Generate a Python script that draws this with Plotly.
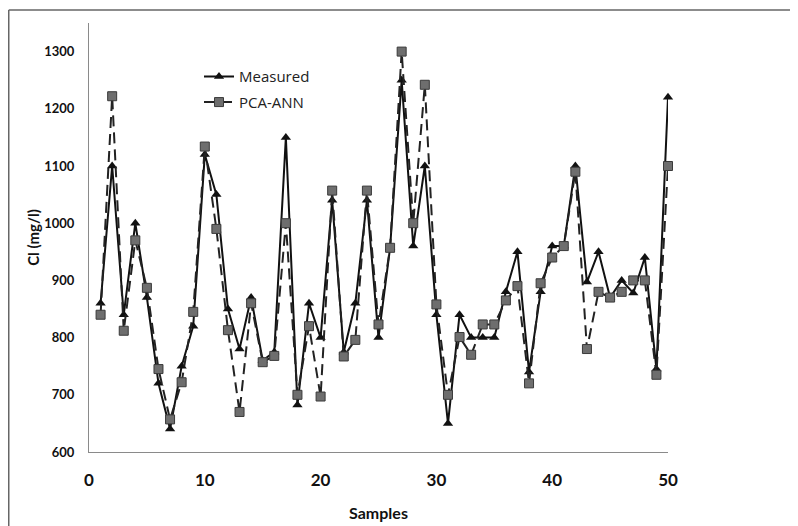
import plotly.graph_objects as go

samples = list(range(1, 51))
measured = [860, 1100, 840, 1000, 870, 720, 640, 750, 820, 1120,
            1050, 850, 780, 870, 760, 775, 1150, 682, 860, 800,
            1040, 775, 860, 1040, 800, 957, 1250, 960, 1100, 840,
            650, 840, 800, 800, 800, 880, 950, 740, 880, 960,
            960, 1100, 897, 950, 870, 900, 878, 940, 745, 1220]
pca_ann = [840, 1222, 812, 970, 887, 745, 657, 722, 845, 1134,
           990, 813, 670, 860, 757, 768, 1000, 700, 820, 697,
           1057, 767, 796, 1057, 823, 957, 1300, 1000, 1242, 858,
           700, 801, 770, 823, 823, 865, 890, 720, 895, 940,
           960, 1090, 780, 880, 870, 880, 900, 900, 735, 1100]
x_ticks = [0, 10, 20, 30, 40, 50]
y_ticks = [600, 700, 800, 900, 1000, 1100, 1200, 1300]

fig = go.Figure()
fig.add_trace(go.Scatter(
    x=samples, y=measured, name="Measured", mode="lines+markers",
    legendgroup="a", cliponaxis=False,
    line=dict(color="#111111", width=2),
    marker=dict(symbol="triangle-up", size=9, color="#111111"),
))
fig.add_trace(go.Scatter(
    x=samples, y=pca_ann, name="PCA-ANN", mode="lines+markers",
    legendgroup="b", cliponaxis=False,
    line=dict(color="#222222", width=2, dash="11px,6px"),
    marker=dict(symbol="square", size=9, color="#6e6e6e",
                line=dict(color="#3a3a3a", width=1)),
))

L, T = 81, 15
PW, PH = 579, 429

fig.update_layout(
    width=798, height=526,
    margin=dict(l=L, r=798 - L - PW, t=T, b=526 - T - PH),
    paper_bgcolor="white", plot_bgcolor="white",
    font=dict(family="Lato, Open Sans, sans-serif", color="#111111"),
    showlegend=True,
    legend=dict(x=0.19, y=0.913, xanchor="left", yanchor="top",
                bgcolor="rgba(0,0,0,0)", tracegroupgap=3,
                font=dict(family="Open Sans", size=15, color="#222222")),
    xaxis=dict(range=[0, 50], tickvals=x_ticks, showgrid=False, zeroline=False,
               showline=True, linecolor="#8a8a8a", linewidth=1, ticks="",
               ticklabelstandoff=13,
               tickfont=dict(size=17, family="Lato", color="#111111", weight=700),
               title=dict(text="Samples", font=dict(size=16, family="Lato", weight=700), standoff=18)),
    yaxis=dict(range=[600, 1350], tickvals=y_ticks, showgrid=False, zeroline=False,
               showline=True, linecolor="#8a8a8a", linewidth=1, ticks="",
               ticklabelstandoff=11,
               tickfont=dict(size=13, family="Lato", color="#111111", weight=700),
               title=dict(text="Cl (mg/l)", font=dict(size=15, family="Lato", weight=700), standoff=0)),
)

# outer frame (top and left edges visible in reference)
ytop = 1 + (T - 2) / PH
xleft = (0.75 - L) / PW
fig.add_shape(type="line", xref="paper", yref="paper",
              x0=xleft, x1=2, y0=ytop, y1=ytop,
              line=dict(color="#666666", width=1.5))
fig.add_shape(type="line", xref="paper", yref="paper",
              x0=xleft, x1=xleft, y0=ytop, y1=-1,
              line=dict(color="#666666", width=1.5))

fig.write_html("out.html")
